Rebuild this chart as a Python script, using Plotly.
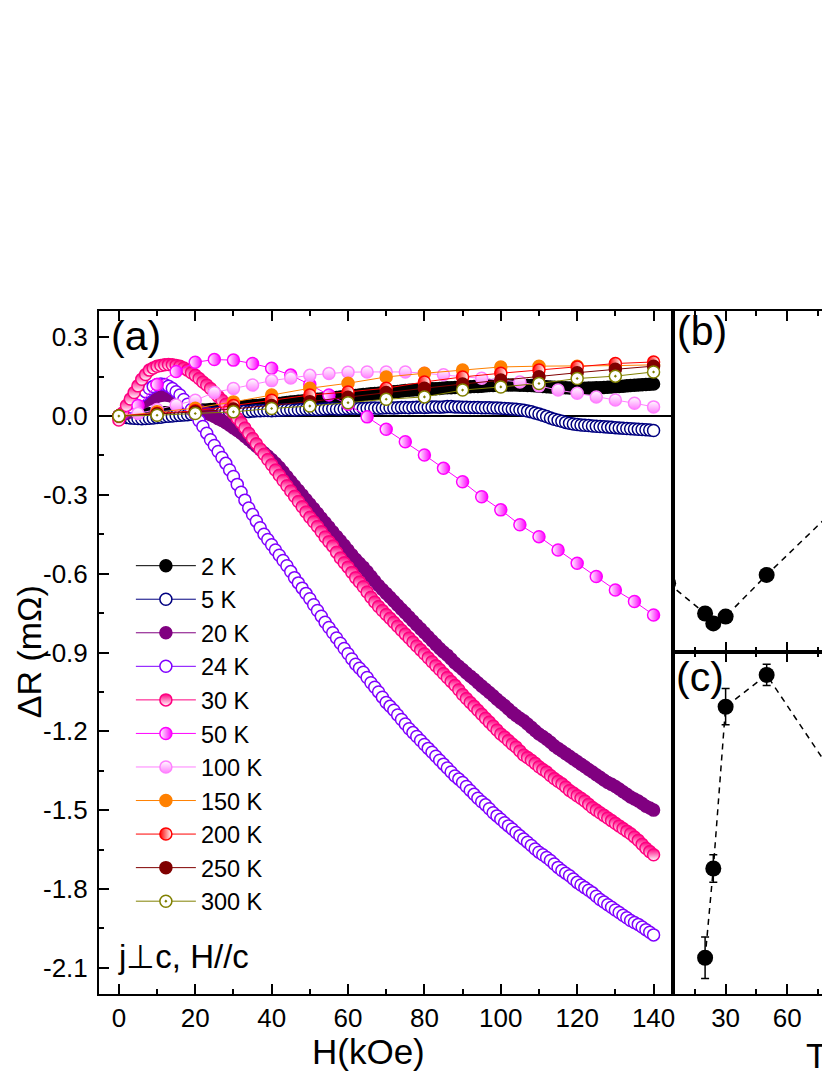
import plotly.graph_objects as go

# field grids (kOe)
H_dense = list(range(0, 141))
H_5 = list(range(0, 141, 5))
H_10 = list(range(0, 141, 10))

# Delta R (mOhm)
dR_2K = [0.000, 0.001, 0.002, 0.004, 0.005, 0.005, 0.006, 0.008, 0.009, 0.009,
         0.010, 0.012, 0.013, 0.013, 0.014, 0.016, 0.017, 0.017, 0.018, 0.019,
         0.020, 0.022, 0.023, 0.023, 0.025, 0.026, 0.026, 0.028, 0.030, 0.031,
         0.032, 0.034, 0.034, 0.036, 0.038, 0.039, 0.040, 0.041, 0.043, 0.044,
         0.046, 0.047, 0.048, 0.050, 0.052, 0.054, 0.055, 0.056, 0.057, 0.059,
         0.061, 0.062, 0.064, 0.065, 0.066, 0.068, 0.070, 0.071, 0.073, 0.074,
         0.076, 0.077, 0.078, 0.080, 0.082, 0.083, 0.085, 0.086, 0.087, 0.089,
         0.091, 0.092, 0.093, 0.094, 0.095, 0.097, 0.098, 0.099, 0.100, 0.101,
         0.102, 0.103, 0.104, 0.104, 0.105, 0.107, 0.108, 0.108, 0.109, 0.110,
         0.111, 0.111, 0.112, 0.113, 0.113, 0.114, 0.115, 0.116, 0.116, 0.117,
         0.117, 0.118, 0.118, 0.118, 0.118, 0.117, 0.117, 0.116, 0.116, 0.115,
         0.114, 0.113, 0.112, 0.111, 0.110, 0.109, 0.108, 0.108, 0.107, 0.107,
         0.106, 0.106, 0.106, 0.107, 0.107, 0.108, 0.108, 0.109, 0.110, 0.111,
         0.112, 0.113, 0.114, 0.115, 0.116, 0.117, 0.118, 0.119, 0.120, 0.121,
         0.122]
dR_5K = [0.000, -0.003, -0.005, -0.007, -0.008, -0.009, -0.010, -0.009, -0.008, -0.007,
         -0.005, -0.004, -0.002, -0.001, 0.000, 0.002, 0.003, 0.004, 0.005, 0.007,
         0.008, 0.009, 0.010, 0.011, 0.012, 0.012, 0.013, 0.014, 0.015, 0.015,
         0.016, 0.017, 0.018, 0.018, 0.017, 0.019, 0.020, 0.020, 0.021, 0.021,
         0.020, 0.021, 0.022, 0.023, 0.024, 0.024, 0.023, 0.024, 0.025, 0.026,
         0.026, 0.025, 0.025, 0.026, 0.027, 0.028, 0.028, 0.027, 0.027, 0.028,
         0.029, 0.030, 0.030, 0.029, 0.029, 0.030, 0.031, 0.031, 0.030, 0.031,
         0.032, 0.032, 0.031, 0.032, 0.033, 0.033, 0.032, 0.033, 0.034, 0.034,
         0.033, 0.034, 0.035, 0.035, 0.034, 0.035, 0.036, 0.036, 0.035, 0.035,
         0.034, 0.034, 0.033, 0.033, 0.033, 0.032, 0.032, 0.032, 0.031, 0.031,
         0.030, 0.029, 0.028, 0.027, 0.026, 0.024, 0.022, 0.019, 0.016, 0.012,
         0.008, 0.003, -0.002, -0.007, -0.012, -0.016, -0.020, -0.024, -0.027, -0.030,
         -0.032, -0.034, -0.035, -0.036, -0.038, -0.039, -0.040, -0.041, -0.042, -0.043,
         -0.044, -0.045, -0.046, -0.047, -0.048, -0.049, -0.050, -0.051, -0.052, -0.053,
         -0.055]
dR_20K = [0.000, 0.004, 0.010, 0.020, 0.030, 0.040, 0.050, 0.058, 0.065, 0.070,
          0.075, 0.078, 0.080, 0.078, 0.075, 0.068, 0.060, 0.053, 0.045, 0.038,
          0.030, 0.022, 0.015, 0.010, 0.005, -0.002, -0.010, -0.017, -0.025, -0.035,
          -0.045, -0.055, -0.065, -0.078, -0.090, -0.102, -0.115, -0.128, -0.140, -0.152,
          -0.165, -0.180, -0.195, -0.212, -0.230, -0.248, -0.265, -0.282, -0.300, -0.318,
          -0.335, -0.352, -0.370, -0.388, -0.405, -0.422, -0.440, -0.458, -0.475, -0.492,
          -0.510, -0.528, -0.545, -0.560, -0.575, -0.592, -0.610, -0.628, -0.645, -0.660,
          -0.675, -0.690, -0.705, -0.720, -0.735, -0.750, -0.765, -0.780, -0.795, -0.810,
          -0.825, -0.840, -0.855, -0.870, -0.885, -0.898, -0.910, -0.925, -0.940, -0.952,
          -0.965, -0.978, -0.990, -1.002, -1.015, -1.028, -1.040, -1.052, -1.065, -1.078,
          -1.090, -1.102, -1.115, -1.128, -1.140, -1.150, -1.160, -1.172, -1.185, -1.198,
          -1.210, -1.220, -1.230, -1.242, -1.255, -1.265, -1.275, -1.285, -1.295, -1.305,
          -1.315, -1.325, -1.335, -1.345, -1.355, -1.365, -1.375, -1.385, -1.395, -1.402,
          -1.410, -1.420, -1.430, -1.440, -1.450, -1.458, -1.465, -1.475, -1.485, -1.492,
          -1.500]
dR_24K = [0.000, 0.008, 0.020, 0.035, 0.050, 0.065, 0.080, 0.093, 0.105, 0.113,
          0.120, 0.122, 0.120, 0.114, 0.105, 0.093, 0.080, 0.063, 0.045, 0.025,
          0.005, -0.018, -0.040, -0.065, -0.090, -0.112, -0.135, -0.158, -0.180, -0.205,
          -0.230, -0.260, -0.290, -0.320, -0.350, -0.375, -0.400, -0.425, -0.450, -0.470,
          -0.490, -0.510, -0.530, -0.550, -0.570, -0.592, -0.615, -0.635, -0.655, -0.675,
          -0.695, -0.718, -0.740, -0.762, -0.785, -0.805, -0.825, -0.845, -0.865, -0.885,
          -0.905, -0.925, -0.945, -0.960, -0.975, -0.995, -1.015, -1.032, -1.050, -1.070,
          -1.090, -1.105, -1.120, -1.138, -1.155, -1.172, -1.190, -1.205, -1.220, -1.235,
          -1.250, -1.265, -1.280, -1.295, -1.310, -1.325, -1.340, -1.355, -1.370, -1.382,
          -1.395, -1.410, -1.425, -1.440, -1.455, -1.468, -1.480, -1.495, -1.510, -1.522,
          -1.535, -1.548, -1.560, -1.572, -1.585, -1.598, -1.610, -1.622, -1.635, -1.648,
          -1.660, -1.670, -1.680, -1.692, -1.705, -1.718, -1.730, -1.740, -1.750, -1.762,
          -1.775, -1.785, -1.795, -1.805, -1.815, -1.828, -1.840, -1.850, -1.860, -1.870,
          -1.880, -1.890, -1.900, -1.910, -1.920, -1.928, -1.935, -1.945, -1.955, -1.965,
          -1.975]
dR_30K = [-0.015, 0.012, 0.040, 0.065, 0.090, 0.115, 0.140, 0.158, 0.175, 0.183,
          0.190, 0.193, 0.195, 0.196, 0.195, 0.193, 0.190, 0.183, 0.175, 0.165,
          0.155, 0.143, 0.130, 0.118, 0.105, 0.090, 0.075, 0.060, 0.045, 0.028,
          0.010, -0.008, -0.025, -0.045, -0.065, -0.085, -0.105, -0.125, -0.145, -0.165,
          -0.185, -0.205, -0.225, -0.245, -0.265, -0.285, -0.305, -0.325, -0.345, -0.365,
          -0.385, -0.402, -0.420, -0.440, -0.460, -0.478, -0.495, -0.518, -0.540, -0.558,
          -0.575, -0.595, -0.615, -0.632, -0.650, -0.670, -0.690, -0.708, -0.725, -0.740,
          -0.755, -0.770, -0.785, -0.800, -0.815, -0.830, -0.845, -0.860, -0.875, -0.890,
          -0.905, -0.920, -0.935, -0.950, -0.965, -0.980, -0.995, -1.010, -1.025, -1.042,
          -1.060, -1.075, -1.090, -1.105, -1.120, -1.135, -1.150, -1.165, -1.180, -1.195,
          -1.210, -1.222, -1.235, -1.248, -1.260, -1.275, -1.290, -1.300, -1.310, -1.322,
          -1.335, -1.345, -1.355, -1.368, -1.380, -1.390, -1.400, -1.412, -1.425, -1.435,
          -1.445, -1.455, -1.465, -1.478, -1.490, -1.500, -1.510, -1.520, -1.530, -1.540,
          -1.550, -1.560, -1.570, -1.580, -1.590, -1.602, -1.615, -1.630, -1.645, -1.658,
          -1.670]
dR_50K = [0.0, 0.040, 0.120, 0.170, 0.205, 0.215, 0.213, 0.200, 0.182, 0.156,
          0.120, 0.080, 0.045, -0.003, -0.050, -0.098, -0.148, -0.199, -0.250, -0.307,
          -0.357, -0.414, -0.459, -0.510, -0.560, -0.611, -0.662, -0.706, -0.757]
dR_100K = [0.0, 0.010, 0.025, 0.042, 0.060, 0.090, 0.105, 0.118, 0.135, 0.145,
           0.155, 0.162, 0.167, 0.168, 0.168, 0.168, 0.163, 0.157, 0.150, 0.144,
           0.137, 0.130, 0.115, 0.099, 0.087, 0.073, 0.061, 0.049, 0.035]
dR_150K = [0.0, 0.016, 0.030, 0.054, 0.080, 0.106, 0.125, 0.149, 0.163, 0.175,
           0.187, 0.190, 0.190, 0.192, 0.195]
dR_200K = [0.0, 0.010, 0.020, 0.040, 0.060, 0.080, 0.092, 0.106, 0.130, 0.149,
           0.163, 0.175, 0.187, 0.200, 0.206]
dR_250K = [0.0, 0.008, 0.016, 0.027, 0.040, 0.055, 0.072, 0.090, 0.106, 0.122,
           0.137, 0.150, 0.165, 0.178, 0.190]
dR_300K = [0.0, 0.003, 0.010, 0.016, 0.029, 0.038, 0.051, 0.064, 0.073, 0.099,
           0.111, 0.124, 0.143, 0.152, 0.168]

# panels (b) and (c), temperature (K); y values in panel units
T_b = [2, 20, 24, 30, 50, 100]
val_b = [0.202, 0.113, 0.084, 0.104, 0.226, 0.516]
T_c = [20, 24, 30, 50, 100]
val_c = [0.106, 0.367, 0.840, 0.933, 0.485]
err_c = [0.061, 0.040, 0.053, 0.031, 0.030]

y_ticks = [-2.1, -1.8, -1.5, -1.2, -0.9, -0.6, -0.3, 0.0, 0.3]
y_ticktext = ["-2.1", "-1.8", "-1.5", "-1.2", "-0.9", "-0.6", "-0.3", "0.0", "0.3"]

FONT = "Liberation Sans, Arial, sans-serif"

series = [
    ("2 K", H_dense, dR_2K, "#000000", dict(symbol="circle", color="#000000")),
    ("5 K", H_dense, dR_5K, "#000080", dict(symbol="circle", color="white")),
    ("20 K", H_dense, dR_20K, "#800080", dict(symbol="circle", color="#800080")),
    ("24 K", H_dense, dR_24K, "#8000FF", dict(symbol="circle", color="white")),
    ("30 K", H_dense, dR_30K, "#FF0080",
     dict(symbol="circle", color="#FF0080", gradient=dict(type="vertical", color="white"))),
    ("50 K", H_5, dR_50K, "#FF00FF",
     dict(symbol="circle", color="white", gradient=dict(type="horizontal", color="#FF00FF"))),
    ("100 K", H_5, dR_100K, "#FF80FF",
     dict(symbol="circle", color="white", gradient=dict(type="vertical", color="#FF80FF"))),
    ("150 K", H_10, dR_150K, "#FF8000", dict(symbol="circle", color="#FF8000")),
    ("200 K", H_10, dR_200K, "#FF0000",
     dict(symbol="circle", color="#FF0000", gradient=dict(type="horizontal", color="white"))),
    ("250 K", H_10, dR_250K, "#800000", dict(symbol="circle", color="#800000")),
    ("300 K", H_10, dR_300K, "#808000", dict(symbol="circle-dot", color="white")),
]

fig = go.Figure()

for name, xs, ys, col, mk in series:
    marker = dict(size=12, line=dict(color=col, width=1.5))
    marker.update(mk)
    fig.add_trace(go.Scatter(
        x=xs, y=ys, name=name, mode="lines+markers",
        line=dict(color=col, width=1), marker=marker,
        xaxis="x", yaxis="y"))

fig.add_trace(go.Scatter(
    x=T_b, y=val_b, mode="lines+markers", showlegend=False,
    line=dict(color="black", width=1.5, dash="6px,5px"),
    marker=dict(size=16, color="black"),
    xaxis="x2", yaxis="y2"))

fig.add_trace(go.Scatter(
    x=T_c, y=val_c, mode="lines+markers", showlegend=False,
    line=dict(color="black", width=1.5, dash="6px,5px"),
    marker=dict(size=16, color="black"),
    error_y=dict(type="data", array=err_c, color="black", thickness=1.5, width=4),
    xaxis="x3", yaxis="y3"))

axis_common = dict(showline=True, linecolor="black", linewidth=2, showgrid=False,
                   ticks="inside", ticklen=10, tickwidth=1.5, tickcolor="black",
                   tickfont=dict(family=FONT, size=26, color="black"))
minor_ticks = dict(ticks="inside", ticklen=5, tickwidth=1.5, tickcolor="black")

split = 0.788
mid = 0.5007

# the page body adds an 8 px offset, so the figure is 8 px smaller than the window
fig.update_layout(
    width=822, height=1067,
    margin=dict(l=91, r=0, t=303, b=81),
    paper_bgcolor="white", plot_bgcolor="white",
    font=dict(family=FONT, color="black"),
    xaxis=dict(domain=[0, split], range=[-5.2, 145], tickmode="linear", tick0=0, dtick=20,
               mirror="ticks", zeroline=False, anchor="y",
               minor=dict(tick0=0, dtick=10, **minor_ticks),
               **axis_common),
    yaxis=dict(domain=[0, 1], range=[-2.2, 0.4], tickmode="array", tickvals=y_ticks,
               ticktext=y_ticktext, mirror=True, anchor="x", ticklabelstandoff=4,
               zeroline=True, zerolinecolor="black", zerolinewidth=1.5,
               minor=dict(tickmode="linear", tick0=0, dtick=0.15, **minor_ticks),
               **axis_common),
    xaxis2=dict(domain=[split, 1], range=[4.2, 79.4], tickmode="linear", tick0=0, dtick=30,
                mirror="ticks", zeroline=False, anchor="y2", showticklabels=False,
                minor=dict(tick0=0, dtick=15, **minor_ticks),
                **axis_common),
    yaxis2=dict(domain=[mid, 1], range=[0, 1], anchor="x2", showline=True, linecolor="black",
                linewidth=2, showgrid=False, zeroline=False, showticklabels=False, ticks=""),
    xaxis3=dict(domain=[split, 1], range=[4.2, 79.4], tickmode="linear", tick0=0, dtick=30,
                mirror="ticks", zeroline=False, anchor="y3",
                minor=dict(tick0=0, dtick=15, **minor_ticks),
                **axis_common),
    yaxis3=dict(domain=[0, mid], range=[0, 1], anchor="x3", showline=True, linecolor="black",
                linewidth=2, showgrid=False, zeroline=False, showticklabels=False, ticks=""),
    legend=dict(x=0.0438, y=0.659, xanchor="left", yanchor="top",
                bgcolor="rgba(0,0,0,0)", borderwidth=0, itemwidth=60,
                tracegroupgap=0, font=dict(family=FONT, size=23.5, color="black")),
)


def label(text, x, y, size, xanchor="left", angle=0):
    fig.add_annotation(text=text, x=x, y=y, xref="paper", yref="paper",
                       xanchor=xanchor, yanchor="middle", showarrow=False,
                       textangle=angle, font=dict(family=FONT, size=size, color="black"))


label("(a)", 0.0137, 0.9634, 41)
label("(b)", 0.7907, 0.9707, 41)
label("(c)", 0.7893, 0.4641, 41)
label("j\u22a5c, H//c", 0.0233, 0.0556, 33)
label("\u0394R (m\u03a9)", -0.0958, 0.5007, 34, xanchor="center", angle=-90)
label("H(kOe)", 0.3707, -0.0835, 35, xanchor="center")
label("T", 0.9685, -0.0894, 35)

fig.write_html("out.html")
